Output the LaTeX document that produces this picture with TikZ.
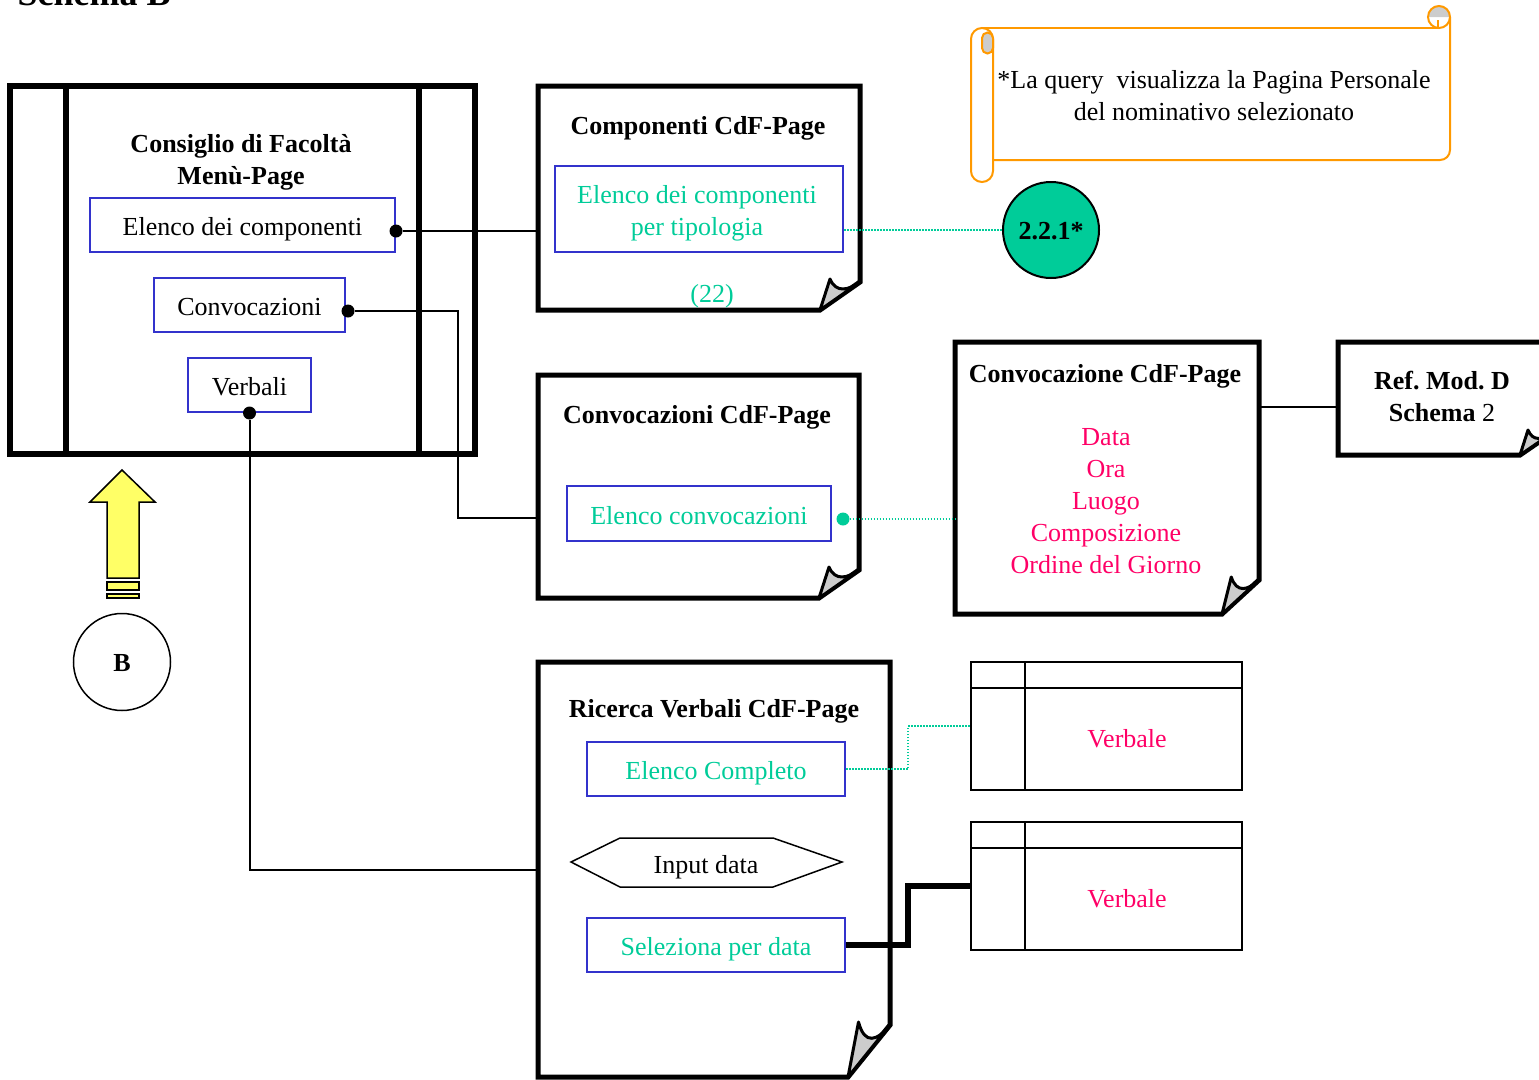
\documentclass[tikz,border=0pt]{standalone}
\usepackage{fontspec}
\setmainfont{Liberation Serif}

\definecolor{boxblue}{RGB}{51,51,204}
\definecolor{tealtext}{RGB}{0,204,153}
\definecolor{pinktext}{RGB}{255,0,102}
\definecolor{scrollorange}{RGB}{255,153,0}
\definecolor{foldgray}{RGB}{204,204,204}
\definecolor{arrowyellow}{RGB}{255,255,102}

\tikzset{
  every node/.style={font=\fontsize{26}{32}\selectfont},
  pagetitle/.style={font=\fontsize{26}{32}\selectfont\bfseries, align=center},
  pagebox/.style={inner sep=0pt, outer sep=0pt},
  pageline/.style={line width=5pt, line join=miter},
  flap/.style={line width=3pt, fill=foldgray, line join=round},
  menuitem/.style={draw=boxblue, line width=2pt, inner sep=0pt, minimum height=54pt, text height=27pt, text depth=6pt},
  inbox/.style={draw=boxblue, line width=2pt, inner sep=0pt, align=center},
  bullet/.style={circle, fill=black, inner sep=0pt, minimum size=13pt},
  link/.style={line width=2pt},
  dotlink/.style={draw=tealtext, line width=1.5pt, dash pattern=on 1.5pt off 1.5pt},
  thicklink/.style={line width=6pt},
  scroll/.style={draw=scrollorange, line width=2pt},
  arrowstyle/.style={draw=black, fill=arrowyellow, line width=1.5pt}
}

% page with a folded corner: node, fold width, fold height
\newcommand{\docpage}[3]{%
  \draw[pageline] (#1.north west) -- (#1.north east) -- ([yshift=#3pt]#1.south east)
    -- ([xshift=-#2pt]#1.south east) -- (#1.south west) -- cycle;
  \filldraw[flap] ([xshift=-#2pt]#1.south east) -- ([xshift={-0.75*#2},yshift={#3+3}]#1.south east)
    .. controls ([xshift={-0.6*#2},yshift={0.6*#3}]#1.south east) and ([xshift={-0.3*#2},yshift={0.7*#3}]#1.south east)
    .. ([yshift=#3pt]#1.south east) -- cycle;
}

\begin{document}
\begin{tikzpicture}[x=1pt,y=-1pt]
\useasboundingbox (0,0) rectangle (1539,1079);

% Title (cut at the top)
\node[anchor=base west, font=\fontsize{36}{40}\selectfont\bfseries] (schema) at (14,5) {Schema B};

% Menu page
\node[draw, line width=6pt, inner sep=0pt, outer sep=0pt, minimum width=465pt, minimum height=368pt] (menu) at (242.5,270) {};
\draw[line width=6pt] ([xshift=56pt]menu.north west) -- ([xshift=56pt]menu.south west);
\draw[line width=6pt] ([xshift=-56pt]menu.north east) -- ([xshift=-56pt]menu.south east);
\node[pagetitle] (menutitle) at (241,162) {Consiglio di Facoltà\\Menù-Page};
\node[menuitem, minimum width=305pt] (melenco) at (242.5,225) {Elenco dei componenti};
\node[menuitem, minimum width=191pt] (mconv) at (249.5,305) {Convocazioni};
\node[menuitem, minimum width=123pt] (mverb) at (249.5,385) {Verbali};
\node[bullet] (dcomp) at ([yshift=-6pt]melenco.east) {};
\node[bullet] (dconv) at ([xshift=2pt,yshift=-6pt]mconv.east) {};
\node[bullet] (dverb) at (mverb.south) {};

% Yellow arrow and B
\filldraw[arrowstyle] (107,578) -- (107,502) -- (90,502) -- (122,470) -- (155,502) -- (139,502) -- (139,578) -- cycle;
\foreach \top/\bot in {582/590, 594/598}
  \filldraw[arrowstyle] (107,\top) rectangle (139,\bot);
\node[circle, draw, line width=1.5pt, minimum size=97pt, text height=18pt, text depth=0pt, font=\fontsize{26}{32}\selectfont\bfseries] (nb) at (122,662) {B};

% Componenti page
\node[pagebox, minimum width=322pt, minimum height=224pt] (pcomp) at (699,198) {};
\docpage{pcomp}{40}{28}
\node[pagetitle] (tcomptitle) at (698,128) {Componenti CdF-Page};
\node[inbox, minimum width=288pt, minimum height=86pt] (tcomp) at (699,209) {};
\node[text=tealtext, align=center] (tcomptxt) at (697,213) {Elenco dei componenti\\per tipologia};
\node[text=tealtext] (n22) at (712,296) {(22)};

% Convocazioni page
\node[pagebox, minimum width=321pt, minimum height=223pt] (pconv) at (698.5,486.5) {};
\docpage{pconv}{40}{28}
\node[pagetitle] (tconvtitle) at (697,417) {Convocazioni CdF-Page};
\node[menuitem, minimum width=264pt, minimum height=55pt, text=tealtext] (tconv) at (699,513.5) {Elenco convocazioni};
\node[bullet, fill=tealtext] (dtconv) at (843,519) {};

% Convocazione page
\node[pagebox, minimum width=304pt, minimum height=272pt] (pconvz) at (1107,478) {};
\docpage{pconvz}{37}{34}
\node[pagetitle] (tconvztitle) at (1105,376) {Convocazione CdF-Page};
\node[text=pinktext, align=center] (fields) at (1106,501) {Data\\Ora\\Luogo\\Composizione\\Ordine del Giorno};

% Ref page
\node[pagebox, minimum width=214pt, minimum height=113pt] (pref) at (1445,398.5) {};
\docpage{pref}{32}{22}
\node[align=center] (reftxt) at (1442,396) {\textbf{Ref.\ Mod.\ D}\\\textbf{Schema} 2};

% Ricerca page
\node[pagebox, minimum width=352pt, minimum height=415pt] (pric) at (714,869.5) {};
\docpage{pric}{42}{52}
\node[pagetitle] (trictitle) at (714,711) {Ricerca Verbali CdF-Page};
\node[menuitem, minimum width=258pt, text=tealtext] (tcompl) at (716,769) {Elenco Completo};
\node (tinput) at (706,867) {Input data};
\draw[line width=1.5pt] (571,862) -- (620,838) -- (773,838) -- (842,862) -- (773,887) -- (620,887) -- cycle;
\node[menuitem, minimum width=258pt, text=tealtext] (tsel) at (716,945) {Seleziona per data};

% Verbale tables
\foreach \n/\y in {verb1/726, verb2/886} {
  \node[draw, line width=2pt, inner sep=0pt, outer sep=0pt, minimum width=271pt, minimum height=128pt] (\n) at (1106.5,\y) {};
  \draw[line width=2pt] ([yshift=-26pt]\n.north west) -- ([yshift=-26pt]\n.north east);
  \draw[line width=2pt] ([xshift=54pt]\n.north west) -- ([xshift=54pt]\n.south west);
  \node[text=pinktext] (\n-txt) at (1127,\y+13) {Verbale};
}

% Circle 2.2.1
\node[circle, draw, line width=2pt, fill=tealtext, minimum size=96pt, inner sep=0pt, text height=18pt, text depth=0pt, font=\fontsize{26}{32}\selectfont\bfseries] (c221) at (1051,230) {2.2.1*};

% Scroll note
\draw[scroll] (971,39) arc (180:0:11pt) -- (993,171) arc (0:-180:11pt) -- cycle;
\filldraw[scroll, fill=foldgray] (982,38) arc (180:0:5.5pt) -- (993,48) arc (0:-180:5.5pt) -- cycle;
\draw[scroll] (982,28) -- (1439,28);
\draw[scroll] (993,160) -- (1440,160) arc (-90:0:10pt) -- (1450,17);
\fill[foldgray] (1428,17) arc (180:0:11pt) -- cycle;
\draw[scroll] (1439,17) circle (11pt);
\draw[scroll] (1438,20) -- (1438,28);
\node[align=center] (note) at (1214,96) {*La query\ \ visualizza la Pagina Personale\\del nominativo selezionato};

% Connectors
\draw[link] (dcomp) -- (dcomp -| pcomp.west);
\coordinate (kconv) at (458,518);
\draw[link] (dconv) -| (kconv) -- (kconv -| pconv.west);
\draw[link] (dverb) |- (pric.west);
\draw[dotlink] (tcomp.east |- c221) -- (c221);
\draw[dotlink] (dtconv) -- (dtconv -| pconvz.west);
\draw[link] ([yshift=-8pt]pref.west) -- ([yshift=-8pt]pref.west -| pconvz.east);
\coordinate (kverb1) at (908,726);
\draw[dotlink] (tcompl.east) -| (kverb1) -- (verb1.west);
\coordinate (kverb2) at (908,886);
\draw[thicklink] (tsel.east) -| (kverb2) -- (verb2.west);

\end{tikzpicture}
\end{document}
